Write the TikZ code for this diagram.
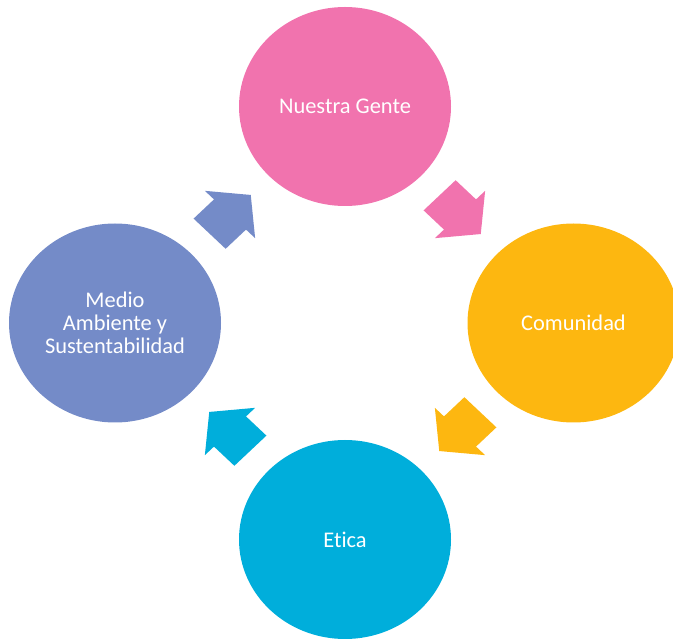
\documentclass[tikz,border=0pt]{standalone}
\usepackage{fontspec}
\setmainfont{Carlito}[Ligatures=NoCommon]
\usetikzlibrary{shapes.geometric}
\definecolor{cpink}{RGB}{241,115,174}
\definecolor{corange}{RGB}{253,183,16}
\definecolor{cblue}{RGB}{0,174,219}
\definecolor{cpurple}{RGB}{116,139,200}
\tikzset{
  bubble/.style={ellipse, inner sep=0pt, minimum width=212pt, minimum height=199pt,
    text=white, align=center, font=\fontsize{22.4}{23}\selectfont},
  cyclearrow/.pic={
    \path[pic actions] (-28,-22) -- (0,-22) -- (0,-34.5) -- (28.5,0) -- (0,34.5) -- (0,22) -- (-28,22) -- cycle;
  }
}
\begin{document}
\begin{tikzpicture}[x=1pt,y=1pt]
\useasboundingbox (0,0) rectangle (673,643);
\clip (0,0) rectangle (673,643);
\node[bubble, fill=cpink] (gente) at (345,536.5) {Nuestra Gente};
\node[bubble, fill=corange] (comunidad) at (573.5,320) {Comunidad};
\node[bubble, fill=cblue] (etica) at (345,103.5) {Etica};
\node[bubble, fill=cpurple] (medio) at (115,320) {Medio\\Ambiente y\\Sustentabilidad};
\pic[fill=cpurple, xscale=1.03, yscale=0.97, rotate=45] at (230,428.5) {cyclearrow};
\pic[fill=cpink, xscale=1.03, yscale=0.97, rotate=-45] at (460,428.5) {cyclearrow};
\pic[fill=corange, xscale=1.03, yscale=0.97, rotate=-135] at (460,211.5) {cyclearrow};
\pic[fill=cblue, xscale=1.03, yscale=0.97, rotate=135] at (230,211.5) {cyclearrow};
\end{tikzpicture}
\end{document}
